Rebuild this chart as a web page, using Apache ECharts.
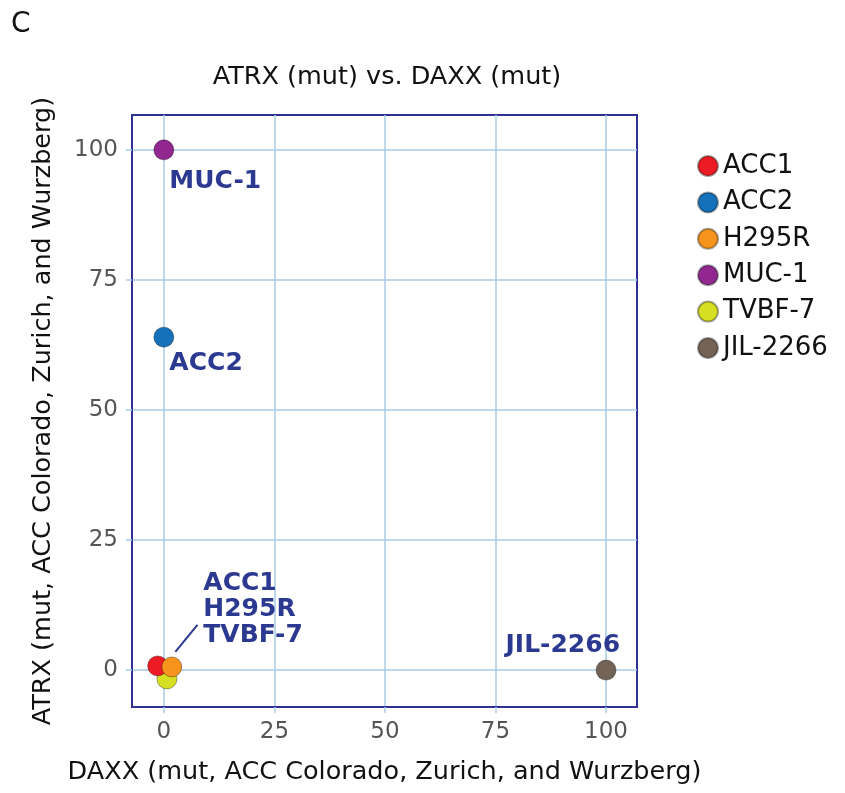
<!DOCTYPE html>
<html>
<head>
<meta charset="utf-8">
<script src="https://cdn.jsdelivr.net/npm/echarts@6/dist/echarts.min.js"></script>
<style>html,body{margin:0;padding:0;background:#fff}#c{width:845px;height:793px}</style>
</head>
<body>
<div id="c"></div>
<script>
const cellLines = ['ACC1', 'ACC2', 'H295R', 'MUC-1', 'TVBF-7', 'JIL-2266'];
const daxx = [-1.4, 0, 1.8, 0, 0.7, 100];
const atrx = [0.8, 64, 0.6, 100, -1.7, 0];
const colors = ['#ed1c24', '#1471ba', '#f7941d', '#92278f', '#d7df23', '#736357'];
const xTicks = [0, 25, 50, 75, 100];
const yTicks = [0, 25, 50, 75, 100];
const clusterLabel = ['ACC1', 'H295R', 'TVBF-7'];
const leader = [[2.6, 3.5], [7.6, 8.7]];

const font = 'DejaVu Sans';
const labelBlue = '#2b3990';

const labelCfg = {
  'MUC-1': { show: true, position: [16, 30], formatter: 'MUC-1' },
  'ACC2': { show: true, position: [16, 24], formatter: 'ACC2' },
  'JIL-2266': { show: true, position: [-90, -27], formatter: 'JIL-2266' },
  'H295R': { show: true, position: [42, -86], formatter: clusterLabel.join('\n'), lineHeight: 26 }
};
const zOrder = { 'TVBF-7': 2, 'ACC1': 3, 'H295R': 4 };

const series = cellLines.map((name, i) => {
  const lc = labelCfg[name];
  const s = {
    name: name,
    type: 'scatter',
    symbolSize: 20,
    z: zOrder[name] || 3,
    itemStyle: { color: colors[i], borderColor: 'rgba(0,0,0,0.35)', borderWidth: 1, opacity: 1 },
    data: [[daxx[i], atrx[i]]],
    label: lc ? Object.assign({
      color: labelBlue, fontFamily: font, fontWeight: 'bold', fontSize: 25,
      align: 'left', verticalAlign: 'top'
    }, lc) : { show: false },
    emphasis: { disabled: true }
  };
  if (name === 'H295R') {
    s.markLine = {
      silent: true, symbol: 'none', label: { show: false },
      lineStyle: { color: labelBlue, width: 2, type: 'solid' },
      data: [[{ coord: leader[0] }, { coord: leader[1] }]]
    };
  }
  return s;
});

const chart = echarts.init(document.getElementById('c'));
function makeAxis(ticks) {
  return {
    type: 'value',
    axisLine: { show: true, onZero: false, lineStyle: { color: '#2e3192', width: 2 } },
    axisTick: { show: true, length: 6, customValues: ticks, lineStyle: { color: '#a9cbe8', width: 1.5 } },
    splitLine: { show: true, lineStyle: { color: '#a9cbe8', width: 1.5 } },
    axisLabel: {
      color: '#555', fontFamily: font, fontSize: 23, margin: 14, customValues: ticks,
      showMinLabel: true, showMaxLabel: true
    },
    nameLocation: 'middle',
    nameTextStyle: { color: '#111', fontFamily: font, fontSize: 25.5 }
  };
}
chart.setOption({
  animation: false,
  backgroundColor: '#fff',
  title: [
    { text: 'C', left: 6, top: 6, textStyle: { fontFamily: font, fontSize: 28, fontWeight: 'normal', color: '#111' } },
    { text: 'ATRX (mut) vs. DAXX (mut)', left: 382, top: 59, textAlign: 'center',
      textStyle: { fontFamily: font, fontSize: 25.5, fontWeight: 'normal', color: '#111' } }
  ],
  legend: {
    data: cellLines,
    orient: 'vertical', left: 692, top: 148,
    icon: 'circle', itemWidth: 20, itemHeight: 20, itemGap: 10.4,
    textStyle: { fontFamily: font, fontSize: 26, color: '#111' }
  },
  grid: { left: 132, right: 208, top: 115, bottom: 86, show: true, borderColor: '#2e3192', borderWidth: 2, containLabel: false },
  xAxis: Object.assign(makeAxis(xTicks), {
    min: -7.2, max: 107, position: 'bottom',
    name: 'DAXX (mut, ACC Colorado, Zurich, and Wurzberg)', nameGap: 52
  }),
  yAxis: Object.assign(makeAxis(yTicks), {
    min: -7.1, max: 106.7, position: 'left',
    name: 'ATRX (mut, ACC Colorado, Zurich, and Wurzberg)', nameGap: 76
  }),
  series: series
});
</script>
</body>
</html>
